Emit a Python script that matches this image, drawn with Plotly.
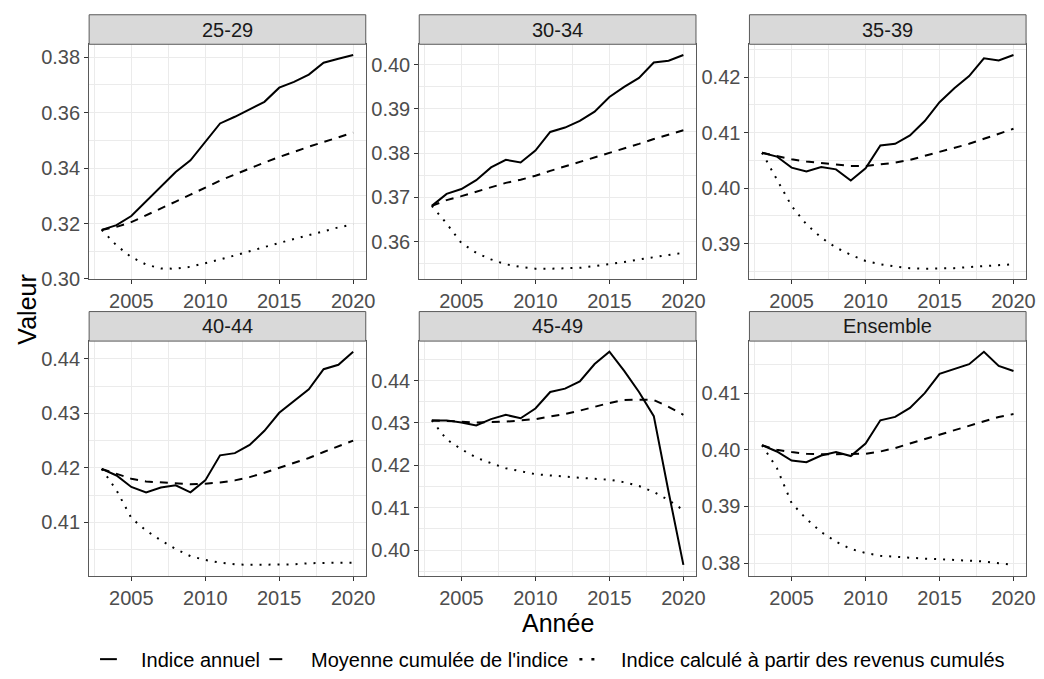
import plotly.graph_objects as go

# ---------------- data ----------------
years = list(range(2003, 2021))
panels = ["25-29", "30-34", "35-39", "40-44", "45-49", "Ensemble"]
series_names = ["Indice annuel", "Moyenne cumulée de l'indice",
                "Indice calculé à partir des revenus cumulés"]

annual_25_29 = [0.3177, 0.3194, 0.3227, 0.3280, 0.3336, 0.3386, 0.3428, 0.3496, 0.3561,
                0.3585, 0.3611, 0.3639, 0.3690, 0.3711, 0.3737, 0.3780, 0.3794, 0.3808]
cummean_25_29 = [0.3177, 0.3188, 0.3205, 0.3229, 0.3254, 0.3279, 0.3304, 0.3329, 0.3355,
                 0.3377, 0.3399, 0.3420, 0.3440, 0.3459, 0.3477, 0.3494, 0.3511, 0.3528]
cumrev_25_29 = [0.3177, 0.3121, 0.3079, 0.3052, 0.3038, 0.3037, 0.3044, 0.3056, 0.3070,
                0.3085, 0.3099, 0.3115, 0.3130, 0.3144, 0.3160, 0.3174, 0.3186, 0.3197]

annual_30_34 = [0.3681, 0.3708, 0.3719, 0.3739, 0.3768, 0.3785, 0.3779, 0.3806, 0.3848,
                0.3858, 0.3873, 0.3894, 0.3927, 0.3950, 0.3970, 0.4005, 0.4009, 0.4022]
cummean_30_34 = [0.3681, 0.3694, 0.3703, 0.3713, 0.3723, 0.3733, 0.3740, 0.3749, 0.3760,
                 0.3770, 0.3780, 0.3790, 0.3800, 0.3810, 0.3821, 0.3832, 0.3842, 0.3852]
cumrev_30_34 = [0.3681, 0.3641, 0.3597, 0.3575, 0.3560, 0.3549, 0.3543, 0.3539, 0.3539,
                0.3540, 0.3541, 0.3545, 0.3549, 0.3554, 0.3560, 0.3565, 0.3569, 0.3575]

annual_35_39 = [0.4064, 0.4057, 0.4037, 0.4030, 0.4038, 0.4034, 0.4014, 0.4036, 0.4077,
                0.4080, 0.4095, 0.4121, 0.4155, 0.4180, 0.4202, 0.4234, 0.4230, 0.4240]
cummean_35_39 = [0.4064, 0.4058, 0.4052, 0.4048, 0.4045, 0.4043, 0.4040, 0.4040, 0.4043,
                 0.4046, 0.4051, 0.4058, 0.4065, 0.4073, 0.4080, 0.4089, 0.4098, 0.4107]
cumrev_35_39 = [0.4064, 0.4016, 0.3968, 0.3935, 0.3911, 0.3893, 0.3880, 0.3869, 0.3863,
                0.3859, 0.3856, 0.3855, 0.3855, 0.3856, 0.3858, 0.3860, 0.3862, 0.3863]

annual_40_44 = [0.4198, 0.4186, 0.4165, 0.4155, 0.4164, 0.4168, 0.4155, 0.4177, 0.4223,
                0.4227, 0.4242, 0.4268, 0.4301, 0.4323, 0.4344, 0.4381, 0.4389, 0.4413]
cummean_40_44 = [0.4198, 0.4189, 0.4180, 0.4175, 0.4173, 0.4171, 0.4170, 0.4171, 0.4173,
                 0.4177, 0.4183, 0.4191, 0.4200, 0.4209, 0.4218, 0.4229, 0.4239, 0.4250]
cumrev_40_44 = [0.4198, 0.4159, 0.4108, 0.4085, 0.4067, 0.4051, 0.4038, 0.4031, 0.4026,
                0.4023, 0.4022, 0.4022, 0.4022, 0.4023, 0.4025, 0.4026, 0.4026, 0.4026]

annual_45_49 = [0.4306, 0.4306, 0.4301, 0.4294, 0.4309, 0.4319, 0.4311, 0.4334, 0.4373,
                0.4381, 0.4398, 0.4439, 0.4468, 0.4423, 0.4373, 0.4316, 0.4137, 0.3965]
cummean_45_49 = [0.4306, 0.4305, 0.4303, 0.4301, 0.4302, 0.4303, 0.4306, 0.4309, 0.4315,
                 0.4321, 0.4329, 0.4338, 0.4347, 0.4354, 0.4355, 0.4354, 0.4338, 0.4319]
cumrev_45_49 = [0.4306, 0.4261, 0.4238, 0.4218, 0.4205, 0.4193, 0.4186, 0.4179, 0.4176,
                0.4173, 0.4170, 0.4168, 0.4166, 0.4160, 0.4151, 0.4137, 0.4118, 0.4094]

annual_ens = [0.4008, 0.3997, 0.3981, 0.3978, 0.3990, 0.3996, 0.3989, 0.4011, 0.4052,
              0.4058, 0.4074, 0.4100, 0.4134, 0.4142, 0.4151, 0.4173, 0.4148, 0.4139]
cummean_ens = [0.4008, 0.4000, 0.3996, 0.3993, 0.3992, 0.3992, 0.3992, 0.3993, 0.3997,
               0.4003, 0.4011, 0.4019, 0.4026, 0.4035, 0.4043, 0.4051, 0.4058, 0.4063]
cumrev_ens = [0.4008, 0.3968, 0.3906, 0.3878, 0.3855, 0.3838, 0.3825, 0.3818, 0.3813,
              0.3811, 0.3809, 0.3808, 0.3807, 0.3806, 0.3805, 0.3803, 0.3800, 0.3797]

panel_data = [
    (annual_25_29, cummean_25_29, cumrev_25_29),
    (annual_30_34, cummean_30_34, cumrev_30_34),
    (annual_35_39, cummean_35_39, cumrev_35_39),
    (annual_40_44, cummean_40_44, cumrev_40_44),
    (annual_45_49, cummean_45_49, cumrev_45_49),
    (annual_ens, cummean_ens, cumrev_ens),
]
ytick_steps = [0.02, 0.01, 0.01, 0.01, 0.01, 0.01]
xtick_vals = [2005, 2010, 2015, 2020]

# ---------------- layout geometry (pixels) ----------------
W, H = 1044, 679
col_px = [(90, 369.3), (423.3, 702.7), (756.7, 1036)]
row_px = [(45, 284), (346.7, 585)]
strip_h = 30
FONT = "Liberation Sans, Arial, sans-serif"
dashes = ["solid", "8px,7px", "2px,7px"]

def px_x(x):
    return x / W

def px_y(y):
    return 1 - y / H

fig = go.Figure()
layout = dict(width=W, height=H, margin=dict(l=0, r=0, t=0, b=0),
              paper_bgcolor="white", plot_bgcolor="white", showlegend=False,
              font=dict(family=FONT, color="#4D4D4D"))
shapes, annotations = [], []

for i, name in enumerate(panels):
    r, c = divmod(i, 3)
    x0, x1 = col_px[c]
    top, bot = row_px[r]
    k = "" if i == 0 else str(i + 1)
    for j, vals in enumerate(panel_data[i]):
        fig.add_trace(go.Scatter(x=years, y=vals, mode="lines", name=series_names[j],
                                 line=dict(color="black", width=2, dash=dashes[j]),
                                 xaxis="x" + k, yaxis="y" + k))
    allv = [v for s in panel_data[i] for v in s]
    lo, hi = min(allv), max(allv)
    pad = 0.05 * (hi - lo)
    xpad = 0.05 * (years[-1] - years[0])
    step = ytick_steps[i]
    common = dict(showline=True, mirror=True, linecolor="#5a5a5a", linewidth=1,
                  ticks="outside", ticklen=4, tickwidth=1, tickcolor="#333333",
                  showgrid=True, gridcolor="#EBEBEB", gridwidth=1.1, zeroline=False,
                  tickfont=dict(family=FONT, size=20, color="#4D4D4D"))
    layout["xaxis" + k] = dict(common, domain=[px_x(x0), px_x(x1)],
                               range=[years[0] - xpad, years[-1] + xpad],
                               tickvals=xtick_vals, anchor="y" + k,
                               minor=dict(dtick=2.5, tick0=2002.5, showgrid=True,
                                          gridcolor="#EBEBEB", gridwidth=0.6, ticklen=0))
    layout["yaxis" + k] = dict(common, domain=[px_y(bot), px_y(top)],
                               range=[lo - pad, hi + pad], dtick=step, tick0=0,
                               tickformat=".2f", anchor="x" + k,
                               minor=dict(dtick=step / 2, tick0=0, showgrid=True,
                                          gridcolor="#EBEBEB", gridwidth=0.6, ticklen=0))
    # strip
    shapes.append(dict(type="rect", xref="paper", yref="paper",
                       x0=px_x(x0), x1=px_x(x1), y0=px_y(top), y1=px_y(top - strip_h),
                       fillcolor="#D9D9D9", line=dict(color="#5a5a5a", width=1)))
    annotations.append(dict(text=name, xref="paper", yref="paper",
                            x=px_x((x0 + x1) / 2), y=px_y(top - strip_h / 2),
                            xanchor="center", yanchor="middle", showarrow=False,
                            font=dict(family=FONT, size=20, color="#1A1A1A")))

# axis titles
annotations.append(dict(text="Valeur", xref="paper", yref="paper", x=px_x(27), y=px_y(315),
                        textangle=-90, showarrow=False, xanchor="center", yanchor="middle",
                        font=dict(family=FONT, size=25, color="black")))
annotations.append(dict(text="Année", xref="paper", yref="paper", x=px_x(563), y=px_y(633),
                        showarrow=False, xanchor="center", yanchor="middle",
                        font=dict(family=FONT, size=25, color="black")))

# legend (keys + labels)
legend_keys = [(101, 118), (272, 285), (585, 603)]
legend_text_x = [140, 312, 625]
key_dash = ["solid", "solid", "3px,9px"]
key_width = [2, 2, 2.5]
ly = 670
for j in range(3):
    a, b = legend_keys[j]
    shapes.append(dict(type="line", xref="paper", yref="paper", x0=px_x(a), x1=px_x(b),
                       y0=px_y(ly), y1=px_y(ly),
                       line=dict(color="black", width=key_width[j], dash=key_dash[j])))
    annotations.append(dict(text=series_names[j], xref="paper", yref="paper",
                            x=px_x(legend_text_x[j]), y=px_y(ly + 1), xanchor="left",
                            yanchor="middle", showarrow=False,
                            font=dict(family=FONT, size=20, color="black")))

layout["shapes"] = shapes
layout["annotations"] = annotations
fig.update_layout(**layout)
fig.write_html("out.html")
